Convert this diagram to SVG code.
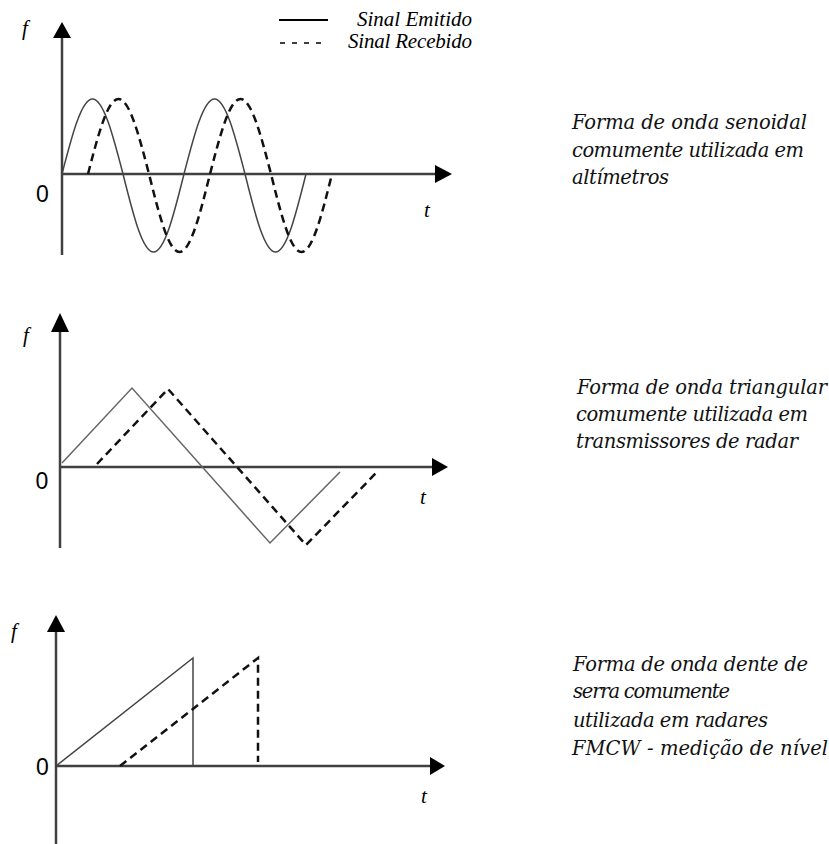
<svg xmlns="http://www.w3.org/2000/svg" width="829" height="844" viewBox="0 0 829 844">
<style>
.axis{stroke:#404040;stroke-width:2.5;fill:none}
.head{fill:#000}
.solid{stroke:#444;stroke-width:1.5;fill:none}
.solid2{stroke:#666;stroke-width:1.5;fill:none}
.dash{stroke:#111;stroke-width:2.5;fill:none;stroke-dasharray:8 5}
.lbl{font-family:"Liberation Serif",serif;font-style:italic;font-size:21px;fill:#000}
.zero{font-family:"Liberation Sans",Arial,sans-serif;font-size:23px;fill:#000;text-anchor:middle}
.desc{font-family:"DejaVu Serif",serif;font-style:italic;font-size:19.5px;fill:#111}
.leg{font-family:"Liberation Serif",serif;font-style:italic;font-size:21px;fill:#000}
</style>
<rect width="829" height="844" fill="#fff"/>

<g id="legend">
  <line x1="279" y1="20" x2="328" y2="20" stroke="#000" stroke-width="2"/>
  <text class="leg" x="357" y="26" textLength="115" lengthAdjust="spacing">Sinal Emitido</text>
  <line x1="280" y1="43" x2="323" y2="43" stroke="#000" stroke-width="1.5" stroke-dasharray="5 7"/>
  <text class="leg" x="348" y="48" textLength="124" lengthAdjust="spacing">Sinal Recebido</text>
</g>

<g id="graph-sine">
  <g id="sine-axes">
    <line class="axis" x1="62" y1="255" x2="62" y2="34"/>
    <polygon class="head" points="62,22 53,38 71,38"/>
    <line class="axis" x1="62" y1="174" x2="440" y2="174"/>
    <polygon class="head" points="452,174 435,165 435,183"/>
  </g>
  <path class="solid" d="M62,174 c9.95,-38.42 19.46,-75 30.5,-75 c11.04,0 20.55,36.58 30.5,75 c9.95,39.96 19.46,78 30.5,78 c11.04,0 20.55,-38.04 30.5,-78 c9.95,-38.42 19.46,-75 30.5,-75 c11.04,0 20.55,36.58 30.5,75 c9.95,39.96 19.46,78 30.5,78 c11.04,0 20.55,-38.04 30.5,-78"/>
  <path class="dash" d="M88,174 c9.95,-38.42 19.46,-75 30.5,-75 c11.04,0 20.55,36.58 30.5,75 c9.95,39.96 19.46,78 30.5,78 c11.04,0 20.55,-38.04 30.5,-78 c9.95,-38.42 19.46,-75 30.5,-75 c11.04,0 20.55,36.58 30.5,75 c9.95,39.96 19.46,78 30.5,78 c11.04,0 20.55,-38.04 30.5,-78"/>
  <text class="lbl" x="22" y="35">f</text>
  <text class="zero" x="42.5" y="202">0</text>
  <text class="lbl" x="424" y="217">t</text>
</g>

<g id="graph-triangle">
  <g id="triangle-axes">
    <line class="axis" x1="60" y1="548" x2="60" y2="325"/>
    <polygon class="head" points="60,313 51,332 69,332"/>
    <line class="axis" x1="60" y1="467" x2="436" y2="467"/>
    <polygon class="head" points="448,467 432,458 432,476"/>
  </g>
  <polyline class="solid2" points="62,463 132,388 270,543 340,472"/>
  <polyline class="dash" points="97,464 168,389 306,545 377,472"/>
  <text class="lbl" x="23" y="342">f</text>
  <text class="zero" x="42" y="489">0</text>
  <text class="lbl" x="420" y="504">t</text>
</g>

<g id="graph-sawtooth">
  <g id="sawtooth-axes">
    <line class="axis" x1="56" y1="844" x2="56" y2="627"/>
    <polygon class="head" points="56,615 47,632 65,632"/>
    <line class="axis" x1="56" y1="766" x2="434" y2="766"/>
    <polygon class="head" points="445,766 430,757 430,775"/>
  </g>
  <polyline class="solid" points="56,766 193,658 193,766"/>
  <polyline class="dash" points="120,766 258,658 258,762"/>
  <text class="lbl" x="11" y="638">f</text>
  <text class="zero" x="42.5" y="775">0</text>
  <text class="lbl" x="421" y="803">t</text>
</g>

<g id="desc-sine">
  <text class="desc" x="572" y="129" textLength="235" lengthAdjust="spacing">Forma de onda senoidal</text>
  <text class="desc" x="572" y="156.5" textLength="232" lengthAdjust="spacing">comumente utilizada em</text>
  <text class="desc" x="572" y="184" textLength="97" lengthAdjust="spacing">altímetros</text>
</g>
<g id="desc-triangle">
  <text class="desc" x="577" y="394" textLength="250" lengthAdjust="spacing">Forma de onda triangular</text>
  <text class="desc" x="576" y="421" textLength="232" lengthAdjust="spacing">comumente utilizada em</text>
  <text class="desc" x="576" y="448" textLength="222" lengthAdjust="spacing">transmissores de radar</text>
</g>
<g id="desc-sawtooth">
  <text class="desc" x="573" y="671" textLength="235" lengthAdjust="spacing">Forma de onda dente de</text>
  <text class="desc" x="573" y="698" textLength="157" lengthAdjust="spacing">serra comumente</text>
  <text class="desc" x="573" y="727" textLength="195" lengthAdjust="spacing">utilizada em radares</text>
  <text class="desc" x="572" y="755" textLength="256" lengthAdjust="spacing">FMCW - medição de nível</text>
</g>
</svg>
